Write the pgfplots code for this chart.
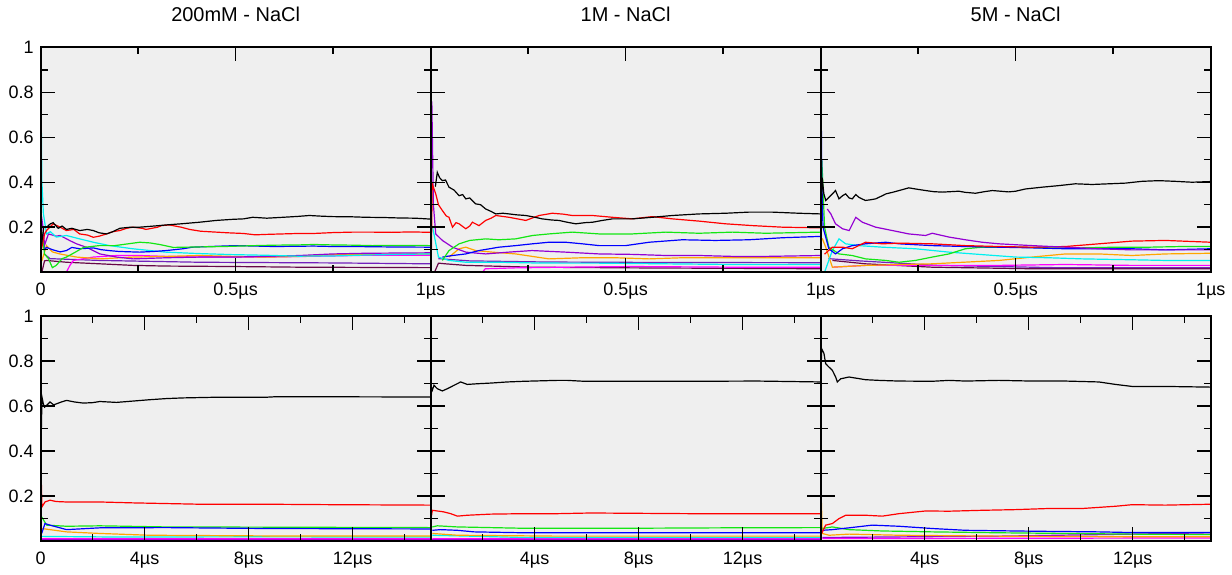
\documentclass[border=0pt]{standalone}
\usepackage{fontspec}
\setmainfont{Liberation Sans}
\usepackage{pgfplots}
\pgfplotsset{compat=1.18}
\usepgfplotslibrary{groupplots}
\definecolor{bggray}{RGB}{239,239,239}
\definecolor{gred}{RGB}{255,0,0}
\definecolor{ggreen}{RGB}{20,230,20}
\definecolor{gblue}{RGB}{0,0,255}
\definecolor{gcyan}{RGB}{0,240,240}
\definecolor{gorange}{RGB}{255,165,0}
\definecolor{gviolet}{RGB}{148,0,211}
\definecolor{gmagenta}{RGB}{255,0,255}
\definecolor{gmaroon}{RGB}{103,7,72}
\definecolor{gindigo}{RGB}{114,33,188}
\pgfplotsset{
  every axis plot/.append style={line width=0.6pt, mark=none},
  commonpanelopts/.style={
    width=195.2pt, height=112.5pt, scale only axis,
    xmin=0, ymin=0, ymax=1,
    axis background/.style={fill=bggray},
    axis on top,
    major tick length=7pt, minor tick length=3.5pt,
    tick style={draw=black, line width=0.7pt},
    axis line style={line width=0.9pt},
    ytick={0.2,0.4,0.6,0.8,1}, minor ytick={0.1,0.3,0.5,0.7,0.9},
    tick label style={font=\fontsize{9}{10}\selectfont},
    xticklabel style={yshift=-1.9pt},
    /pgf/number format/assume math mode=true,
    title style={font=\fontsize{10}{12}\selectfont, yshift=3.5pt},
  },
}
\begin{document}
\begin{tikzpicture}
\begin{groupplot}[
  group style={group size=3 by 2, horizontal sep=0pt, vertical sep=22pt},
  width=195.2pt, height=112.5pt, scale only axis,
]
% ---------- Row 1: 200mM ----------
\nextgroupplot[commonpanelopts, title={200mM - NaCl}, xmax=1, xtick={0,0.5,1}, minor xtick={0.25,0.75},
  xticklabels={0,0.5µs,1µs}, yticklabels={0.2,0.4,0.6,0.8,1}]
\addplot[gmaroon] coordinates {(0.003,0.0)(0.01,0.05)(0.015,0.052)(0.066,0.044)(0.152,0.037)(0.237,0.03)(0.322,0.027)(0.493,0.025)(0.664,0.022)(1.0,0.02)};
\addplot[gindigo] coordinates {(0.01,0.08)(0.024,0.06)(0.152,0.052)(0.407,0.044)(0.749,0.041)(1.0,0.037)};
\addplot[gmagenta] coordinates {(0.066,0.0)(0.075,0.03)(0.084,0.052)(0.135,0.067)(0.195,0.074)(0.254,0.074)(0.322,0.07)(0.407,0.067)(0.493,0.067)(0.578,0.067)(0.749,0.072)(0.834,0.075)(1.0,0.075)};
\addplot[gorange] coordinates {(0.003,0.05)(0.015,0.118)(0.03,0.09)(0.049,0.081)(0.092,0.067)(0.152,0.059)(0.237,0.067)(0.322,0.07)(0.407,0.074)(0.493,0.07)(0.578,0.067)(0.664,0.07)(0.749,0.078)(1.0,0.081)};
\addplot[gviolet] coordinates {(0.0,0.0)(0.002,0.25)(0.006,0.2)(0.01,0.12)(0.02,0.17)(0.04,0.16)(0.05,0.163)(0.075,0.14)(0.092,0.126)(0.118,0.11)(0.13,0.1)(0.152,0.081)(0.195,0.067)(0.237,0.059)(0.322,0.064)(0.407,0.067)(0.493,0.067)(0.578,0.07)(0.664,0.074)(0.749,0.081)(0.834,0.084)(1.0,0.086)};
\addplot[gcyan] coordinates {(0.0,1.0)(0.002,0.6)(0.003,0.41)(0.007,0.26)(0.015,0.17)(0.025,0.18)(0.04,0.156)(0.066,0.163)(0.1,0.148)(0.135,0.133)(0.177,0.118)(0.236,0.104)(0.32,0.089)(0.4,0.083)(0.49,0.078)(0.58,0.075)(0.66,0.071)(0.75,0.072)(0.83,0.076)(0.92,0.079)(1.0,0.081)};
\addplot[gblue] coordinates {(0.003,0.15)(0.01,0.1)(0.015,0.11)(0.03,0.1)(0.05,0.09)(0.066,0.096)(0.08,0.11)(0.1,0.104)(0.12,0.106)(0.135,0.108)(0.155,0.1)(0.175,0.096)(0.2,0.092)(0.254,0.089)(0.29,0.092)(0.322,0.096)(0.365,0.104)(0.389,0.111)(0.45,0.115)(0.5,0.118)(0.55,0.116)(0.6,0.114)(0.65,0.115)(0.7,0.116)(0.75,0.114)(0.8,0.114)(0.85,0.113)(0.9,0.112)(1.0,0.111)};
\addplot[ggreen] coordinates {(0.003,0.18)(0.01,0.08)(0.02,0.06)(0.03,0.02)(0.04,0.03)(0.055,0.06)(0.066,0.067)(0.09,0.09)(0.11,0.11)(0.15,0.118)(0.19,0.118)(0.22,0.125)(0.254,0.133)(0.28,0.13)(0.305,0.123)(0.34,0.11)(0.4,0.112)(0.47,0.114)(0.55,0.118)(0.6,0.12)(0.66,0.121)(0.7,0.123)(0.75,0.121)(0.8,0.12)(0.85,0.118)(0.9,0.119)(1.0,0.118)};
\addplot[gred] coordinates {(0.002,0.1)(0.01,0.17)(0.015,0.185)(0.032,0.215)(0.05,0.2)(0.066,0.185)(0.085,0.19)(0.1,0.17)(0.12,0.165)(0.135,0.155)(0.15,0.16)(0.169,0.17)(0.185,0.18)(0.203,0.185)(0.22,0.195)(0.236,0.2)(0.26,0.195)(0.27,0.19)(0.3,0.2)(0.31,0.207)(0.33,0.21)(0.36,0.2)(0.382,0.19)(0.41,0.182)(0.45,0.178)(0.48,0.175)(0.52,0.172)(0.55,0.166)(0.58,0.168)(0.62,0.17)(0.66,0.172)(0.7,0.172)(0.75,0.176)(0.8,0.178)(0.85,0.178)(0.9,0.177)(0.95,0.179)(1.0,0.177)};
\addplot[black] coordinates {(0.002,0.12)(0.008,0.2)(0.015,0.2)(0.025,0.215)(0.032,0.22)(0.045,0.195)(0.055,0.205)(0.066,0.19)(0.08,0.195)(0.1,0.185)(0.12,0.19)(0.135,0.185)(0.15,0.175)(0.169,0.17)(0.185,0.18)(0.203,0.195)(0.23,0.2)(0.254,0.2)(0.29,0.205)(0.322,0.21)(0.36,0.215)(0.407,0.222)(0.45,0.23)(0.493,0.235)(0.52,0.237)(0.544,0.244)(0.58,0.24)(0.621,0.244)(0.66,0.248)(0.689,0.252)(0.72,0.249)(0.749,0.247)(0.8,0.246)(0.834,0.244)(0.88,0.243)(0.919,0.241)(0.96,0.24)(1.0,0.236)};
% ---------- Row 1: 1M ----------
\nextgroupplot[commonpanelopts, title={1M - NaCl}, xmax=1, xtick={0,0.5,1}, minor xtick={0.25,0.75},
  xticklabels={,0.5µs,1µs}, yticklabels={}]
\addplot[gmaroon] coordinates {(0.01,0.0)(0.02,0.04)(0.038,0.037)(0.09,0.03)(0.261,0.022)(0.517,0.019)(1.0,0.015)};
\addplot[gindigo] coordinates {(0.02,0.06)(0.1,0.05)(0.3,0.045)(0.6,0.043)(1.0,0.042)};
\addplot[gmagenta] coordinates {(0.133,0.0)(0.14,0.015)(0.218,0.019)(0.346,0.022)(0.517,0.025)(0.774,0.022)(1.0,0.022)};
\addplot[gcyan] coordinates {(0.005,0.2)(0.02,0.067)(0.047,0.052)(0.09,0.044)(0.175,0.044)(0.261,0.041)(0.346,0.04)(0.432,0.04)(0.6,0.037)(0.774,0.034)(1.0,0.034)};
\addplot[gorange] coordinates {(0.047,0.067)(0.073,0.104)(0.09,0.111)(0.115,0.096)(0.158,0.089)(0.218,0.081)(0.303,0.059)(0.389,0.064)(0.474,0.064)(0.56,0.059)(0.645,0.064)(0.774,0.064)(1.0,0.064)};
\addplot[gviolet] coordinates {(0.0,0.0)(0.003,0.76)(0.007,0.3)(0.013,0.17)(0.03,0.141)(0.056,0.111)(0.09,0.089)(0.141,0.081)(0.2,0.089)(0.26,0.096)(0.346,0.089)(0.432,0.081)(0.517,0.079)(0.603,0.074)(0.688,0.074)(0.774,0.07)(0.859,0.07)(1.0,0.074)};
\addplot[gblue] coordinates {(0.03,0.067)(0.056,0.074)(0.09,0.081)(0.124,0.096)(0.175,0.111)(0.218,0.118)(0.261,0.126)(0.303,0.133)(0.346,0.133)(0.389,0.126)(0.432,0.118)(0.5,0.118)(0.56,0.133)(0.645,0.144)(0.73,0.141)(0.816,0.144)(0.902,0.153)(1.0,0.159)};
\addplot[ggreen] coordinates {(0.03,0.052)(0.047,0.096)(0.073,0.126)(0.1,0.141)(0.141,0.148)(0.175,0.144)(0.218,0.148)(0.261,0.163)(0.303,0.17)(0.363,0.178)(0.432,0.17)(0.517,0.17)(0.603,0.178)(0.688,0.173)(0.774,0.178)(0.859,0.173)(1.0,0.178)};
\addplot[gred] coordinates {(0.002,0.1)(0.004,0.393)(0.013,0.348)(0.02,0.3)(0.03,0.274)(0.04,0.25)(0.047,0.244)(0.056,0.2)(0.065,0.22)(0.073,0.215)(0.09,0.193)(0.1,0.205)(0.107,0.222)(0.124,0.207)(0.141,0.23)(0.155,0.24)(0.167,0.252)(0.201,0.244)(0.244,0.23)(0.278,0.252)(0.312,0.262)(0.34,0.258)(0.363,0.252)(0.415,0.252)(0.466,0.244)(0.517,0.237)(0.568,0.247)(0.62,0.237)(0.688,0.227)(0.756,0.215)(0.825,0.207)(0.902,0.2)(1.0,0.197)};
\addplot[black] coordinates {(0.012,0.38)(0.017,0.444)(0.023,0.42)(0.03,0.407)(0.038,0.41)(0.047,0.378)(0.06,0.365)(0.073,0.34)(0.082,0.345)(0.09,0.326)(0.1,0.33)(0.115,0.304)(0.128,0.3)(0.141,0.281)(0.155,0.27)(0.167,0.259)(0.185,0.262)(0.201,0.259)(0.22,0.255)(0.244,0.252)(0.265,0.245)(0.286,0.237)(0.31,0.232)(0.329,0.23)(0.35,0.222)(0.372,0.215)(0.395,0.22)(0.415,0.222)(0.44,0.23)(0.466,0.237)(0.517,0.237)(0.568,0.244)(0.62,0.252)(0.688,0.259)(0.756,0.262)(0.816,0.267)(0.876,0.267)(0.944,0.262)(1.0,0.259)};
% ---------- Row 1: 5M ----------
\nextgroupplot[commonpanelopts, title={5M - NaCl}, xmax=1, xtick={0,0.5,1}, minor xtick={0.25,0.75},
  xticklabels={,0.5µs,1µs}, yticklabels={}]
\addplot[gmaroon] coordinates {(0.03,0.052)(0.115,0.037)(0.286,0.022)(0.542,0.015)(1.0,0.015)};
\addplot[gindigo] coordinates {(0.02,0.06)(0.1,0.05)(0.3,0.03)(0.6,0.02)(1.0,0.02)};
\addplot[gmagenta] coordinates {(0.03,0.022)(0.115,0.03)(0.286,0.03)(0.457,0.03)(0.628,0.034)(0.798,0.03)(1.0,0.03)};
\addplot[gorange] coordinates {(0.004,0.15)(0.013,0.111)(0.03,0.022)(0.115,0.03)(0.286,0.037)(0.457,0.052)(0.542,0.067)(0.628,0.081)(0.713,0.081)(0.798,0.074)(0.884,0.081)(1.0,0.084)};
\addplot[gcyan] coordinates {(0.01,0.0)(0.03,0.096)(0.047,0.148)(0.064,0.126)(0.098,0.118)(0.158,0.111)(0.243,0.104)(0.329,0.089)(0.414,0.078)(0.5,0.067)(0.585,0.064)(0.67,0.059)(0.798,0.055)(0.884,0.052)(1.0,0.052)};
\addplot[ggreen] coordinates {(0.003,0.5)(0.01,0.2)(0.021,0.111)(0.047,0.081)(0.081,0.074)(0.115,0.059)(0.167,0.052)(0.201,0.044)(0.243,0.052)(0.286,0.067)(0.329,0.081)(0.371,0.104)(0.414,0.111)(0.5,0.111)(0.585,0.108)(0.67,0.108)(0.756,0.111)(0.841,0.111)(0.927,0.114)(1.0,0.114)};
\addplot[gblue] coordinates {(0.0,0.0)(0.0,1.0)(0.003,0.4)(0.006,0.2)(0.021,0.104)(0.038,0.081)(0.056,0.104)(0.081,0.118)(0.115,0.126)(0.167,0.133)(0.201,0.126)(0.286,0.118)(0.371,0.114)(0.457,0.111)(0.542,0.108)(0.628,0.104)(0.713,0.104)(0.798,0.104)(0.884,0.099)(1.0,0.104)};
\addplot[gred] coordinates {(0.01,0.08)(0.03,0.111)(0.056,0.111)(0.081,0.104)(0.115,0.133)(0.158,0.126)(0.201,0.129)(0.286,0.126)(0.371,0.118)(0.457,0.114)(0.542,0.111)(0.628,0.114)(0.713,0.126)(0.798,0.138)(0.884,0.141)(1.0,0.133)};
\addplot[gviolet] coordinates {(0.017,0.281)(0.026,0.259)(0.038,0.215)(0.056,0.193)(0.073,0.185)(0.09,0.244)(0.107,0.222)(0.141,0.2)(0.184,0.185)(0.226,0.17)(0.269,0.163)(0.286,0.173)(0.329,0.156)(0.371,0.144)(0.414,0.133)(0.457,0.126)(0.542,0.118)(0.628,0.111)(0.713,0.104)(0.798,0.099)(0.884,0.099)(1.0,0.099)};
\addplot[black] coordinates {(0.002,0.3)(0.004,0.42)(0.008,0.35)(0.013,0.319)(0.021,0.333)(0.03,0.348)(0.038,0.363)(0.047,0.326)(0.056,0.34)(0.064,0.348)(0.073,0.33)(0.081,0.326)(0.09,0.345)(0.098,0.333)(0.107,0.325)(0.115,0.319)(0.128,0.322)(0.141,0.326)(0.158,0.34)(0.167,0.348)(0.184,0.355)(0.201,0.363)(0.226,0.375)(0.243,0.37)(0.269,0.363)(0.29,0.358)(0.312,0.356)(0.354,0.36)(0.371,0.355)(0.397,0.351)(0.42,0.358)(0.44,0.363)(0.482,0.357)(0.5,0.36)(0.525,0.37)(0.568,0.378)(0.611,0.385)(0.653,0.393)(0.696,0.39)(0.739,0.393)(0.781,0.396)(0.824,0.404)(0.867,0.407)(0.909,0.404)(0.952,0.4)(1.0,0.403)};
% ---------- Row 2: 200mM ----------
\nextgroupplot[commonpanelopts, xmax=15, xtick={0,4,8,12}, minor xtick={2,6,10,14},
  xticklabels={0,4µs,8µs,12µs}, yticklabels={0.2,0.4,0.6,0.8,1}]
\addplot[gmaroon] coordinates {(0.038,0.003)(15,0.003)};
\addplot[gviolet] coordinates {(0.038,0.006)(15,0.006)};
\addplot[gmagenta] coordinates {(0.038,0.01)(15,0.009)};
\addplot[gcyan] coordinates {(0.038,0.02)(3,0.017)(8,0.018)(15,0.017)};
\addplot[gorange] coordinates {(0.038,0.055)(0.997,0.04)(2.276,0.033)(4.19,0.025)(8.67,0.022)(15,0.022)};
\addplot[ggreen] coordinates {(0.038,0.107)(0.23,0.07)(0.997,0.065)(2.276,0.067)(4.834,0.062)(8.67,0.061)(15,0.059)};
\addplot[gblue] coordinates {(0.038,0.033)(0.166,0.077)(0.358,0.07)(0.997,0.05)(2.276,0.058)(4.834,0.059)(8.67,0.055)(15,0.053)};
\addplot[gred] coordinates {(0.0,0.15)(0.026,0.26)(0.051,0.151)(0.166,0.173)(0.358,0.181)(0.6,0.175)(0.997,0.173)(2.276,0.173)(3.555,0.169)(4.834,0.166)(6.11,0.163)(8.67,0.163)(11.23,0.161)(15,0.159)};
\addplot[black] coordinates {(0.0,0.45)(0.026,0.49)(0.051,0.64)(0.102,0.61)(0.15,0.595)(0.23,0.603)(0.358,0.618)(0.5,0.605)(0.614,0.61)(0.8,0.618)(0.997,0.625)(1.3,0.618)(1.637,0.613)(2.0,0.615)(2.276,0.62)(2.916,0.616)(3.555,0.622)(4.194,0.628)(4.834,0.633)(5.473,0.636)(6.752,0.639)(8.67,0.639)(9.0,0.641)(11.23,0.641)(15.0,0.64)};
% ---------- Row 2: 1M ----------
\nextgroupplot[commonpanelopts, xmax=15, xtick={0,4,8,12}, minor xtick={2,6,10,14},
  xticklabels={,4µs,8µs,12µs}, yticklabels={}]
\addplot[gviolet] coordinates {(0.064,0.006)(15,0.006)};
\addplot[gmagenta] coordinates {(0.064,0.01)(15,0.009)};
\addplot[gcyan] coordinates {(0.064,0.025)(3.59,0.015)(15,0.015)};
\addplot[gorange] coordinates {(0.064,0.033)(1.03,0.025)(4.87,0.021)(15,0.021)};
\addplot[gblue] coordinates {(0.064,0.047)(0.385,0.05)(1.03,0.047)(1.67,0.04)(3.59,0.036)(8.72,0.036)(15,0.036)};
\addplot[ggreen] coordinates {(0.064,0.062)(0.256,0.067)(1.03,0.062)(3.59,0.056)(7.44,0.056)(11.3,0.058)(15,0.059)};
\addplot[gred] coordinates {(0.026,0.107)(0.064,0.136)(0.256,0.133)(0.5,0.129)(0.77,0.121)(1.03,0.11)(1.41,0.114)(2.308,0.119)(3.59,0.121)(4.87,0.121)(6.15,0.124)(10,0.121)(15,0.121)};
\addplot[black] coordinates {(0.0,0.766)(0.026,0.684)(0.064,0.67)(0.128,0.692)(0.256,0.677)(0.449,0.667)(0.641,0.677)(0.897,0.692)(1.154,0.707)(1.41,0.696)(1.795,0.699)(2.308,0.702)(2.949,0.707)(3.59,0.71)(4.87,0.714)(5.256,0.714)(5.897,0.71)(7.436,0.71)(10,0.71)(12.56,0.711)(15,0.707)};
% ---------- Row 2: 5M ----------
\nextgroupplot[commonpanelopts, xmax=15, xtick={0,4,8,12}, minor xtick={2,6,10,14},
  xticklabels={,4µs,8µs,12µs}, yticklabels={}]
\addplot[gmagenta] coordinates {(0.064,0.01)(15,0.013)};
\addplot[gviolet] coordinates {(0.064,0.015)(6.85,0.021)(11.98,0.03)(15,0.036)};
\addplot[gorange] coordinates {(0.013,0.225)(0.064,0.033)(0.32,0.025)(1.089,0.03)(3.01,0.025)(6.85,0.021)(11.98,0.018)(15,0.018)};
\addplot[ggreen] coordinates {(0.064,0.055)(0.448,0.062)(1.089,0.05)(2.37,0.044)(4.29,0.04)(6.85,0.036)(9.41,0.033)(11.98,0.03)(15,0.028)};
\addplot[gblue] coordinates {(0.064,0.047)(0.448,0.05)(1.089,0.058)(1.985,0.07)(3.01,0.065)(4.29,0.055)(5.57,0.047)(8.13,0.043)(10.7,0.04)(11.98,0.037)(15,0.037)};
\addplot[gred] coordinates {(0.038,0.033)(0.192,0.07)(0.448,0.077)(0.705,0.099)(0.961,0.114)(1.729,0.114)(2.37,0.11)(3.01,0.121)(4.035,0.133)(4.93,0.132)(6.21,0.136)(7.49,0.139)(8.77,0.144)(10.06,0.144)(11.34,0.154)(11.98,0.161)(13.26,0.159)(15,0.163)};
\addplot[black] coordinates {(0.0,0.7)(0.026,0.80)(0.038,0.855)(0.128,0.833)(0.192,0.788)(0.32,0.773)(0.448,0.759)(0.576,0.729)(0.64,0.707)(0.769,0.721)(1.089,0.729)(1.729,0.717)(2.242,0.714)(3.01,0.711)(4.29,0.71)(4.93,0.714)(5.57,0.711)(6.85,0.714)(8.13,0.711)(9.41,0.711)(10.7,0.707)(11.34,0.696)(11.98,0.687)(13.26,0.687)(15,0.684)};
\end{groupplot}
\path ([xshift=-20.35pt,yshift=-13.15pt]group c1r2.south west) rectangle ([xshift=10pt,yshift=23.35pt]group c3r1.north east);
\end{tikzpicture}
\end{document}
